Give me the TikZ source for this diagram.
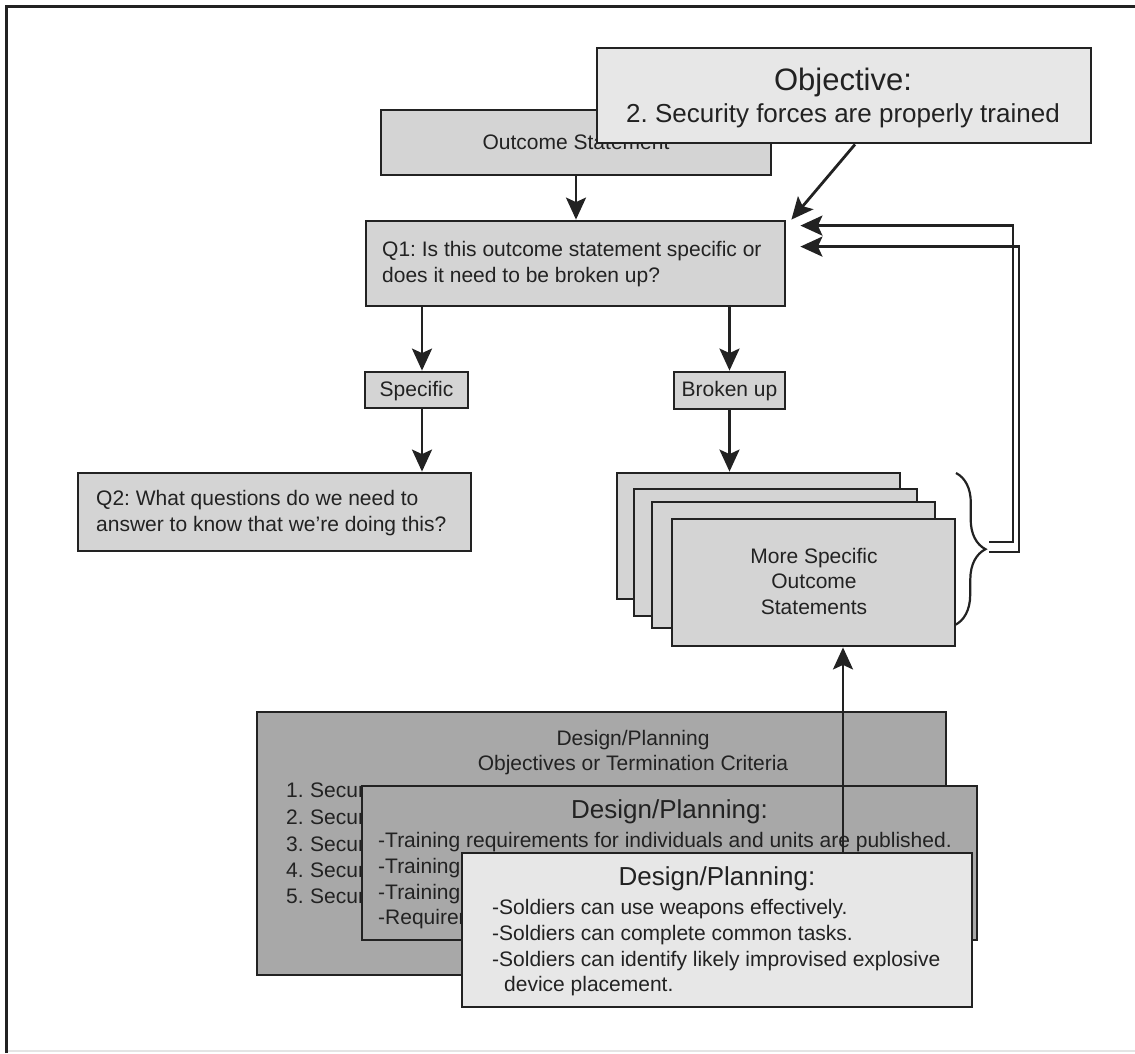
\documentclass[tikz,border=0pt]{standalone}
\usepackage{fontspec}
\setmainfont{Liberation Sans}
\usetikzlibrary{arrows.meta,decorations.pathreplacing,calc}

\definecolor{ink}{HTML}{222222}
\definecolor{boxlight}{HTML}{D4D4D4}
\definecolor{boxpale}{HTML}{E7E7E7}
\definecolor{boxdark}{HTML}{A8A8A8}
\definecolor{rule}{HTML}{E4E4E4}

\tikzset{
  box/.style={draw=ink, line width=2.8pt, inner sep=0pt, text=ink},
  txt/.style={inner sep=0pt, text=ink, font=\fontsize{21}{26}\selectfont},
  bigtxt/.style={inner sep=0pt, text=ink, font=\fontsize{26}{31}\selectfont},
  hugetxt/.style={inner sep=0pt, text=ink, font=\fontsize{31}{36}\selectfont},
  arr/.style={draw=ink, line width=2.8pt,
    -{Stealth[length=22pt, width=20pt, inset=4.5pt]}},
}

\begin{document}
\frenchspacing
\begin{tikzpicture}[x=1pt, y=-1pt]
\useasboundingbox (0,0) rectangle (1135,1053);

% frame
\draw[ink, line width=3pt] (6,1053) -- (6,6) -- (1135,6);
\draw[rule, line width=1.2pt] (8,1051) -- (1135,1051);

% top part
\node[box, fill=boxlight, minimum width=390pt, minimum height=65pt] (outc) at (576,142.5) {};
\node[txt, anchor=base] (outct) at (576,149) {Outcome Statement};

\node[box, fill=boxpale, minimum width=494pt, minimum height=95pt] (obj) at (844,95.5) {};
\node[hugetxt, anchor=base] (objt1) at (843,90) {Objective:};
\node[bigtxt, anchor=base] (objt2) at (843,122) {2. Security forces are properly trained};

\node[box, fill=boxlight, minimum width=419pt, minimum height=85pt] (q1) at (575.5,263.5) {};
\node[txt, anchor=base west] (q1a) at (382,256) {Q1: Is this outcome statement specific or};
\node[txt, anchor=base west] (q1b) at (382,282) {does it need to be broken up?};

\node[box, fill=boxlight, minimum width=103pt, minimum height=36pt] (spec) at (416.5,390) {};
\node[txt, anchor=base] (spect) at (416.5,396) {Specific};

\node[box, fill=boxlight, minimum width=111pt, minimum height=37pt] (brk) at (729.5,390.5) {};
\node[txt, anchor=base] (brkt) at (729.5,396) {Broken up};

\node[box, fill=boxlight, minimum width=393pt, minimum height=78pt] (q2) at (274.5,512) {};
\node[txt, anchor=base west] (q2a) at (96,505) {Q2: What questions do we need to};
\node[txt, anchor=base west] (q2b) at (96,531) {answer to know that we’re doing this?};

% stack of outcome statements
\node[box, fill=boxlight, minimum width=283pt, minimum height=126pt] (s1) at (758.5,536) {};
\node[box, fill=boxlight, minimum width=283pt, minimum height=127pt] (s2) at (775.5,552.5) {};
\node[box, fill=boxlight, minimum width=283pt, minimum height=126pt] (s3) at (793.5,565) {};
\node[box, fill=boxlight, minimum width=283pt, minimum height=127pt] (s4) at (813.5,582.5) {};
\node[txt, anchor=base] (s4a) at (814,563) {More Specific};
\node[txt, anchor=base] (s4b) at (814,588) {Outcome};
\node[txt, anchor=base] (s4c) at (814,614) {Statements};

% connectors of the top part
\coordinate (sx) at (422,0);
\draw[arr] (outc.south) -- (outc.south |- q1.north);
\draw[arr] ([xshift=11pt]obj.south) -- ([xshift=5pt]q1.north east);
\draw[arr] (q1.south -| sx) -- (spec.north -| sx);
\draw[arr] (spec.south -| sx) -- (q2.north -| sx);
\draw[arr] (brk.north |- q1.south) -- (brk.north);
\draw[arr] (brk.south) -- (brk.south |- s1.north);

% brace and feedback loops
\coordinate (bt) at (956,473);
\coordinate (bb) at (955,625);
\draw[ink, line width=2.2pt, decorate, decoration={brace, amplitude=30pt}] (bt) -- (bb);
\coordinate (c1) at (989,542);
\coordinate (c2) at (989,552);
\draw[arr, line width=2.5pt] (c1) -- ++(24,0) |- ([xshift=14pt, yshift=-6pt]q1.north east);
\draw[arr, line width=2.5pt] (c2) -- ++(30,0) |- ([xshift=14pt, yshift=-27pt]q1.north east);

% design / planning layers
\node[box, fill=boxdark, minimum width=689pt, minimum height=263pt] (dp1) at (601.5,843.5) {};
\node[txt, anchor=base] (dp1a) at (633,745) {Design/Planning};
\node[txt, anchor=base] (dp1b) at (633,770) {Objectives or Termination Criteria};
\begin{scope}
  \clip (260,780) rectangle (361,915);
  \foreach \i/\y in {1/797, 2/824, 3/851, 4/877, 5/903} {
    \node[txt, anchor=base west] (n\i) at (286,\y) {\i.};
    \node[txt, anchor=base west] (m\i) at (310,\y) {Security};
  }
\end{scope}

\node[box, fill=boxdark, minimum width=615pt, minimum height=154pt] (dp2) at (669.5,863) {};
\node[bigtxt, anchor=base] (dp2h) at (669.5,818) {Design/Planning:};
\node[txt, anchor=base west] (dp2a) at (378,847) {-Training requirements for individuals and units are published.};
\node[txt, anchor=base west] (dp2b) at (378,873) {-Training};
\node[txt, anchor=base west] (dp2c) at (378,899) {-Training};
\begin{scope}
  \clip (370,905) rectangle (461,935);
  \node[txt, anchor=base west] (dp2d) at (378,924) {-Requirements};
\end{scope}

\coordinate (ux) at (843,0);
\draw[arr] (dp2.north -| ux) ++(0,67) -- (s4.south -| ux);

\node[box, fill=boxpale, minimum width=510pt, minimum height=154pt] (dp3) at (717,930) {};
\node[bigtxt, anchor=base] (dp3h) at (717,885) {Design/Planning:};
\node[txt, anchor=base west] (dp3a) at (492,914) {-Soldiers can use weapons effectively.};
\node[txt, anchor=base west] (dp3b) at (492,940) {-Soldiers can complete common tasks.};
\node[txt, anchor=base west] (dp3c) at (492,966) {-Soldiers can identify likely improvised explosive};
\node[txt, anchor=base west] (dp3d) at (504,991) {device placement.};
\end{tikzpicture}
\end{document}
